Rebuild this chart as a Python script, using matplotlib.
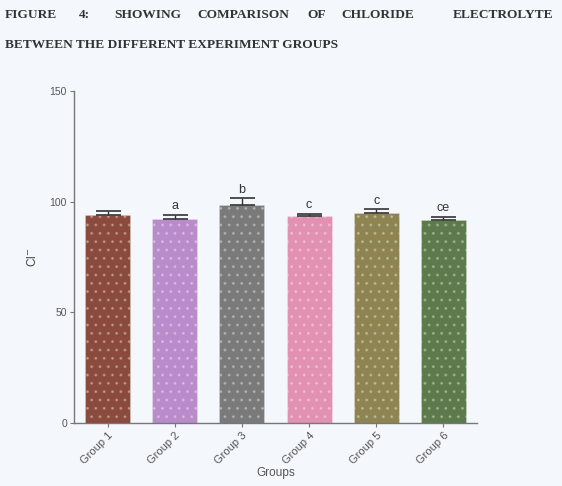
import matplotlib
matplotlib.use('Agg')
import matplotlib.pyplot as plt

groups = ['Group 1', 'Group 2', 'Group 3', 'Group 4', 'Group 5', 'Group 6']
chloride = [94.0, 92.0, 98.5, 93.5, 95.0, 91.5]
sem = [2.0, 2.0, 3.0, 1.0, 1.5, 1.5]
letters = ['', 'a', 'b', 'c', 'c', 'ce']
colors = ['#8a4a3c', '#b98bcb', '#7a7a7a', '#e391b3', '#8d8452', '#5d7a4b']
title_words = ['FIGURE', '4:', 'SHOWING', 'COMPARISON', 'OF', 'CHLORIDE', 'ELECTROLYTE']
title_line2 = 'BETWEEN THE DIFFERENT EXPERIMENT GROUPS'

bg = '#f4f7fb'
fig = plt.figure(figsize=(5.62, 4.86), dpi=100, facecolor=bg)
ax = fig.add_axes([0.1317, 0.1296, 0.717, 0.6832], facecolor=bg)

x = range(len(groups))
bars = ax.bar(x, chloride, width=0.67, color=colors, edgecolor=colors,
              linewidth=0.6, hatch='..', zorder=2)
for b in bars:
    b.set_edgecolor('#ffffff44')
ax.errorbar(x, chloride, yerr=[[0] * len(sem), sem], fmt='none',
            ecolor='#333333', elinewidth=1, capsize=9, capthick=1.2, zorder=3)

for i, lab in enumerate(letters):
    if lab:
        ax.text(i, chloride[i] + sem[i] + 1.2, lab, ha='center', va='bottom',
                fontsize=9, color='#333333', family='Liberation Sans')

ax.set_xlim(-0.5, 5.5)
ax.set_ylim(0, 150)
ax.set_yticks([0, 50, 100, 150])
ax.set_xticks(list(x))
ax.set_xticklabels(groups, rotation=45, ha='right', rotation_mode='anchor',
                   fontsize=8, color='#555555', family='Liberation Sans')
for t in ax.get_yticklabels():
    t.set_fontsize(7.5)
    t.set_color('#555555')
    t.set_family('Liberation Sans')
ax.tick_params(length=3, width=0.8, color='#777777', pad=2)
for s in ['top', 'right']:
    ax.spines[s].set_visible(False)
for s in ['left', 'bottom']:
    ax.spines[s].set_color('#777777')
    ax.spines[s].set_linewidth(1)
ax.set_ylabel('Cl$^{-}$', fontsize=8.5, color='#444444', family='Liberation Sans', labelpad=8)
ax.set_xlabel('Groups', fontsize=8.5, color='#555555', family='Liberation Sans', labelpad=1)

# justified title line
word_x = [5, 79, 114, 197, 307, 341, 553]
for i, (wx, w) in enumerate(zip(word_x, title_words)):
    fig.text(wx / 562, 1 - 15 / 486, w, ha='right' if i == len(title_words) - 1 else 'left',
             va='center', fontsize=9.6, fontweight='bold', family='Liberation Serif',
             color='#333333')
fig.text(5 / 562, 1 - 45 / 486, title_line2, ha='left', va='center', fontsize=9.6,
         fontweight='bold', family='Liberation Serif', color='#333333')

fig.savefig('out.png', dpi=100, facecolor=bg)
